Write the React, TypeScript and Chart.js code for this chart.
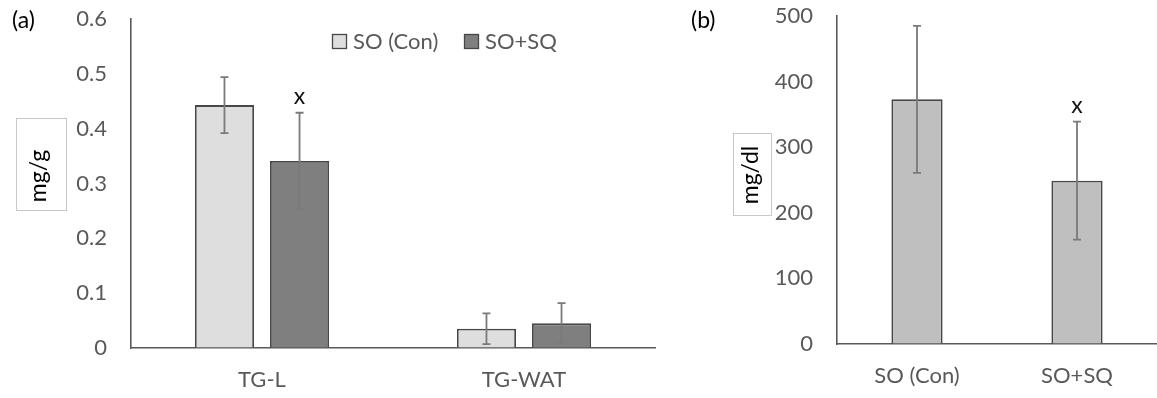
import React, { useEffect, useRef } from "react";
import { Chart, registerables } from "chart.js";
Chart.register(...registerables);

// ---------- Data: panel (a) ----------
const categoriesA = ["TG-L", "TG-WAT"];
const seriesNamesA = ["SO (Con)", "SO+SQ"];
const conValuesA = [0.443, 0.035];
const conErrorsA = [0.051, 0.028];
const conMarksA = ["", ""];
const sqValuesA = [0.341, 0.045];
const sqErrorsA = [0.088, 0.037];
const sqMarksA = ["x", ""];
const yMaxA = 0.6;
const yStepA = 0.1;

// ---------- Data: panel (b) ----------
const categoriesB = ["SO (Con)", "SO+SQ"];
const valuesB = [373, 249];
const errorsB = [112, 90];
const marksB = ["", "x"];
const yMaxB = 500;
const yStepB = 100;

const FONT = "Lato";
const GRAY_TEXT = "#595959";
const BORDER = "#474747";

const errorBarPlugin = {
  id: "errorBars",
  afterDatasetsDraw(chart: any) {
    const ctx = chart.ctx;
    const y = chart.scales.y;
    chart.data.datasets.forEach((ds: any, i: number) => {
      const meta = chart.getDatasetMeta(i);
      meta.data.forEach((bar: any, j: number) => {
        const v = ds.data[j];
        const e = ds.errorBars ? ds.errorBars[j] : 0;
        const top = y.getPixelForValue(v + e);
        const bot = y.getPixelForValue(v - e);
        ctx.save();
        ctx.strokeStyle = "#7a7a7a";
        ctx.lineWidth = 1.8;
        ctx.beginPath();
        ctx.moveTo(bar.x, top);
        ctx.lineTo(bar.x, bot);
        ctx.moveTo(bar.x - 4, top);
        ctx.lineTo(bar.x + 4, top);
        ctx.moveTo(bar.x - 4, bot);
        ctx.lineTo(bar.x + 4, bot);
        ctx.stroke();
        const mark = ds.marks ? ds.marks[j] : "";
        if (mark) {
          ctx.fillStyle = "#111";
          ctx.font = `23px ${FONT}`;
          ctx.textAlign = "center";
          ctx.textBaseline = "alphabetic";
          ctx.fillText(mark, bar.x, top - 9);
        }
        ctx.restore();
      });
    });
  },
};

const decoPlugin = {
  id: "deco",
  afterDraw(chart: any, _args: any, opts: any) {
    const ctx = chart.ctx;
    ctx.save();
    // panel label
    ctx.fillStyle = "#000";
    ctx.font = `23px ${FONT}`;
    ctx.textAlign = "left";
    ctx.textBaseline = "middle";
    ctx.fillText(opts.panel, opts.panelX, 21);
    // boxed y title
    const b = opts.box;
    ctx.strokeStyle = "#c8c8c8";
    ctx.lineWidth = 1;
    ctx.strokeRect(b.x + 0.5, b.y + 0.5, b.w, b.h);
    ctx.translate(b.tx, b.ty);
    ctx.rotate(-Math.PI / 2);
    ctx.textAlign = "center";
    ctx.textBaseline = "alphabetic";
    ctx.fillStyle = "#000";
    ctx.font = `23px ${FONT}`;
    ctx.fillText(opts.yTitle, 0, 0);
    ctx.restore();
    // legend
    if (opts.legend) {
      ctx.save();
      ctx.font = `22px ${FONT}`;
      ctx.textBaseline = "middle";
      ctx.textAlign = "left";
      opts.legend.forEach((item: any, k: number) => {
        const ds = chart.data.datasets[k];
        ctx.fillStyle = ds.backgroundColor;
        ctx.fillRect(item.x, 34, 15, 15);
        ctx.strokeStyle = BORDER;
        ctx.lineWidth = 1.3;
        ctx.strokeRect(item.x + 0.5, 34.5, 14, 14);
        ctx.fillStyle = GRAY_TEXT;
        ctx.fillText(ds.label, item.x + 21, 42);
      });
      ctx.restore();
    }
  },
};

function makeScales(max: number, step: number, yWidth: number, xHeight: number) {
  return {
    x: {
      grid: { display: true, drawOnChartArea: false, drawTicks: false },
      border: { display: true, color: "#595959", width: 1.6 },
      ticks: { color: GRAY_TEXT, font: { family: FONT, size: 22 }, padding: 19 },
      afterFit(s: any) {
        s.height = xHeight;
        s.paddingLeft = 0;
        s.paddingRight = 0;
      },
    },
    y: {
      min: 0,
      max,
      grid: { display: true, drawOnChartArea: false, drawTicks: false },
      border: { display: true, color: "#595959", width: 1.6 },
      ticks: { stepSize: step, color: GRAY_TEXT, font: { family: FONT, size: 22 }, padding: 24 },
      afterFit(s: any) {
        s.width = yWidth;
        s.paddingTop = 0;
        s.paddingBottom = 0;
      },
    },
  };
}

function PanelA() {
  const ref = useRef<HTMLCanvasElement>(null);
  useEffect(() => {
    const chart = new Chart(ref.current!, {
      type: "bar",
      data: {
        labels: categoriesA,
        datasets: [
          {
            label: seriesNamesA[0],
            data: conValuesA,
            errorBars: conErrorsA,
            marks: conMarksA,
            backgroundColor: "#dedede",
            borderColor: BORDER,
            borderWidth: 1.8,
            categoryPercentage: 0.573,
            barPercentage: 0.787,
          } as any,
          {
            label: seriesNamesA[1],
            data: sqValuesA,
            errorBars: sqErrorsA,
            marks: sqMarksA,
            backgroundColor: "#7f7f7f",
            borderColor: BORDER,
            borderWidth: 1.8,
            categoryPercentage: 0.573,
            barPercentage: 0.787,
          } as any,
        ],
      },
      options: {
        responsive: false,
        animation: false,
        layout: { padding: { top: 19, right: 25, left: 0, bottom: 0 } },
        scales: makeScales(yMaxA, yStepA, 131, 50) as any,
        plugins: {
          legend: { display: false },
          tooltip: { enabled: false },
          deco: {
            panel: "(a)",
            panelX: 12,
            yTitle: "mg/g",
            box: { x: 16, y: 118, w: 50, h: 92, tx: 46, ty: 176 },
            legend: [{ x: 332 }, { x: 464 }],
          },
        } as any,
      },
      plugins: [errorBarPlugin, decoPlugin],
    });
    return () => chart.destroy();
  }, []);
  return <canvas ref={ref} width={680} height={398} style={{ position: "absolute", left: 0, top: 0 }} />;
}

function PanelB() {
  const ref = useRef<HTMLCanvasElement>(null);
  useEffect(() => {
    const chart = new Chart(ref.current!, {
      type: "bar",
      data: {
        labels: categoriesB,
        datasets: [
          {
            label: "TG",
            data: valuesB,
            errorBars: errorsB,
            marks: marksB,
            backgroundColor: "#bfbfbf",
            borderColor: BORDER,
            borderWidth: 1.8,
            categoryPercentage: 1,
            barPercentage: 0.32,
          } as any,
        ],
      },
      options: {
        responsive: false,
        animation: false,
        layout: { padding: { top: 16, right: 0, left: 0, bottom: 0 } },
        scales: makeScales(yMaxB, yStepB, 157, 54) as any,
        plugins: {
          legend: { display: false },
          tooltip: { enabled: false },
          deco: {
            panel: "(b)",
            panelX: 11,
            yTitle: "mg/dl",
            box: { x: 53, y: 133, w: 38, h: 82, tx: 78, ty: 175 },
            legend: null,
          },
        } as any,
      },
      plugins: [errorBarPlugin, decoPlugin],
    });
    return () => chart.destroy();
  }, []);
  return <canvas ref={ref} width={477} height={398} style={{ position: "absolute", left: 680, top: 0 }} />;
}

export default function App() {
  return (
    <div style={{ position: "absolute", left: 0, top: 0, width: 1157, height: 398, background: "#fff" }}>
      <PanelA />
      <PanelB />
    </div>
  );
}
